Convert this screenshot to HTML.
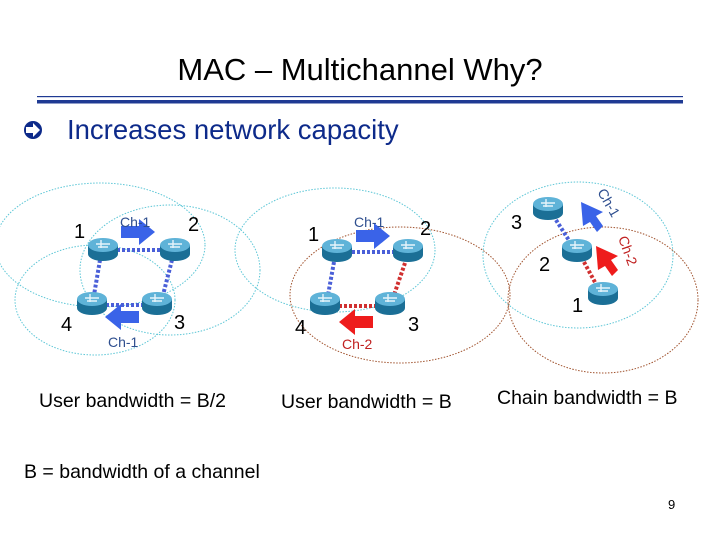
<!DOCTYPE html>
<html><head><style>
body{margin:0;background:#fff}
svg{display:block;font-family:"Liberation Sans",Arial,sans-serif}
</style></head><body>
<svg width="720" height="540" viewBox="0 0 720 540" xmlns="http://www.w3.org/2000/svg">
<defs>
<g id="r">
<path d="M-15,-3 v9 a15,7 0 0 0 30,0 v-9 z" fill="#1b6f96"/>
<ellipse cx="0" cy="-3" rx="15" ry="7" fill="#5fb3d8"/>
<path d="M-7,-4 h14 M-5,-1 h10 M-2,-8 v8" stroke="#e6f4fb" stroke-width="1.4"/>
</g>
</defs>
<text x="360" y="80" font-size="31" text-anchor="middle" fill="#000">MAC – Multichannel Why?</text>
<rect x="37" y="96" width="646" height="1.2" fill="#1f3a93"/>
<rect x="37" y="100" width="646" height="3.5" fill="#1f3a93"/>
<circle cx="33" cy="130" r="9" fill="#0d2a8a"/>
<path d="M26,127 h7 v-4 l7,7 l-7,7 v-4 h-7z" fill="#fff"/>
<text x="67" y="139" font-size="27.5" fill="#0d2a8a">Increases network capacity</text>

<g fill="none" stroke="#5cc6d6" stroke-width="1" stroke-dasharray="1.5,1.5">
<ellipse cx="100" cy="245" rx="105" ry="62"/>
<ellipse cx="170" cy="270" rx="90" ry="65"/>
<ellipse cx="95" cy="300" rx="80" ry="55"/>
<ellipse cx="335" cy="250" rx="100" ry="62"/>
<ellipse cx="578" cy="255" rx="95" ry="73"/>
</g>
<g fill="none" stroke="#a0522d" stroke-width="1" stroke-dasharray="1.5,1.5">
<ellipse cx="400" cy="295" rx="110" ry="68"/>
<ellipse cx="603" cy="300" rx="95" ry="73"/>
</g>

<!-- left -->
<g stroke="#4a5fd8" stroke-width="4" stroke-dasharray="3,2">
<line x1="117" y1="250" x2="160" y2="250"/>
<line x1="100" y1="260" x2="94" y2="295"/>
<line x1="172" y1="260" x2="163" y2="295"/>
<line x1="106" y1="305" x2="143" y2="305"/>
</g>
<use href="#r" x="103" y="248"/><use href="#r" x="175" y="248"/>
<use href="#r" x="92" y="302"/><use href="#r" x="157" y="302"/>
<path d="M121,226 h18 v-7 l16,13 l-16,13 v-7 h-18z" fill="#3a63e8"/>
<path d="M139,311 h-18 v-7 l-16,13 l16,13 v-7 h18z" fill="#3a63e8"/>
<g font-size="20" fill="#000"><text x="74" y="238">1</text><text x="188" y="231">2</text><text x="174" y="329">3</text><text x="61" y="331">4</text></g>
<g font-size="14" fill="#2f4f8f"><text x="120" y="227">Ch-1</text><text x="108" y="347">Ch-1</text></g>

<!-- middle -->
<g stroke="#4a5fd8" stroke-width="4" stroke-dasharray="3,2">
<line x1="352" y1="252" x2="394" y2="252"/>
<line x1="334" y1="262" x2="328" y2="295"/>
</g>
<g stroke="#d03030" stroke-width="4" stroke-dasharray="3,2">
<line x1="405" y1="263" x2="394" y2="295"/>
<line x1="339" y1="306" x2="376" y2="306"/>
</g>
<use href="#r" x="337" y="249"/><use href="#r" x="408" y="249"/>
<use href="#r" x="325" y="302"/><use href="#r" x="390" y="302"/>
<path d="M356,230 h18 v-7 l16,13 l-16,13 v-7 h-18z" fill="#3a63e8"/>
<path d="M373,316 h-18 v-7 l-16,13 l16,13 v-7 h18z" fill="#ee1c1c"/>
<g font-size="20" fill="#000"><text x="308" y="241">1</text><text x="420" y="235">2</text><text x="408" y="331">3</text><text x="295" y="334">4</text></g>
<text x="354" y="227" font-size="14" fill="#2f4f8f">Ch-1</text>
<text x="342" y="349" font-size="14" fill="#c02020">Ch-2</text>

<!-- right -->
<g stroke="#4a5fd8" stroke-width="4" stroke-dasharray="3,2"><line x1="556" y1="220" x2="570" y2="242"/></g>
<g stroke="#d03030" stroke-width="4" stroke-dasharray="3,2"><line x1="584" y1="262" x2="597" y2="286"/></g>
<use href="#r" x="548" y="207"/><use href="#r" x="577" y="249"/><use href="#r" x="603" y="292"/>
<path d="M597,232 l-7,-10 l-7,4 l-2,-24 l22,10 l-7,4 l7,10z" fill="#3a63e8"/>
<path d="M612,276 l-7,-10 l-7,4 l-2,-24 l22,10 l-7,4 l7,10z" fill="#ee1c1c"/>
<g font-size="20" fill="#000"><text x="511" y="229">3</text><text x="539" y="271">2</text><text x="572" y="312">1</text></g>
<text x="597" y="192" font-size="14" fill="#2f4f8f" transform="rotate(60 597 192)">Ch-1</text>
<text x="618" y="238" font-size="14" fill="#c02020" transform="rotate(70 618 238)">Ch-2</text>

<g font-size="19.5" fill="#000">
<text x="39" y="407">User bandwidth = B/2</text>
<text x="281" y="408">User bandwidth = B</text>
<text x="497" y="404">Chain bandwidth = B</text>
<text x="24" y="478">B =  bandwidth of a channel</text>
</g>
<text x="668" y="509" font-size="13" fill="#000">9</text>
</svg>
</body></html>
